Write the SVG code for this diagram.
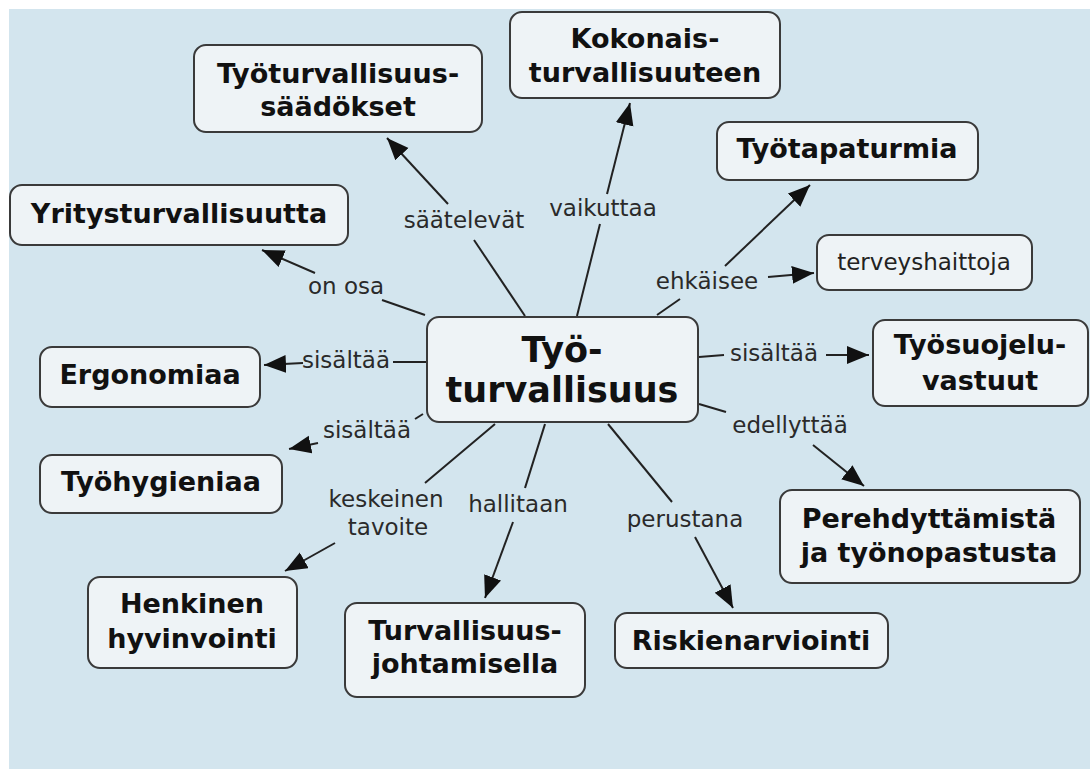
<svg xmlns="http://www.w3.org/2000/svg" width="1090" height="769" viewBox="0 0 1090 769">
<style>
.node rect{fill:#eef3f6;stroke:#3a3a3a;stroke-width:2}
.node text{font-family:"DejaVu Sans",Verdana,sans-serif;font-weight:bold;font-size:27px;fill:#111;text-anchor:middle}
.node text.reg{font-weight:normal;font-size:23px;fill:#222}
.node text.big{font-size:35px}
.conn line{stroke:#222;stroke-width:2}
.conn line.arr{marker-end:url(#ah)}
.lbl{font-family:"DejaVu Sans",Verdana,sans-serif;font-size:23px;fill:#2a2a2a;text-anchor:middle}
</style>
<defs>
<marker id="ah" markerUnits="userSpaceOnUse" markerWidth="24" markerHeight="20" refX="22" refY="9" orient="auto">
<path d="M0,0 L22,9 L0,18 z" fill="#111"/>
</marker>
</defs>
<rect x="0" y="0" width="1090" height="769" fill="#ffffff"/>
<rect x="9" y="9" width="1081" height="760" fill="#d3e5ee"/>

<g class="conn" id="connectors">
<line x1="525" y1="316" x2="474" y2="240"/>
<line class="arr" x1="448" y1="204" x2="387" y2="138"/>
<line x1="577" y1="316" x2="600" y2="224"/>
<line class="arr" x1="607" y1="194" x2="630" y2="103"/>
<line x1="657" y1="315" x2="680" y2="299"/>
<line class="arr" x1="725" y1="266" x2="810" y2="185"/>
<line class="arr" x1="768" y1="277" x2="814" y2="273"/>
<line x1="425" y1="315" x2="382" y2="300"/>
<line class="arr" x1="315" y1="273" x2="262" y2="250"/>
<line x1="427" y1="362" x2="393" y2="362"/>
<line class="arr" x1="303" y1="363" x2="264" y2="365"/>
<line x1="423" y1="414" x2="415" y2="419"/>
<line class="arr" x1="318" y1="443" x2="289" y2="449"/>
<line x1="495" y1="424" x2="425" y2="483"/>
<line class="arr" x1="335" y1="543" x2="285" y2="571"/>
<line x1="545" y1="424" x2="525" y2="488"/>
<line class="arr" x1="513" y1="522" x2="485" y2="598"/>
<line x1="608" y1="424" x2="672" y2="502"/>
<line class="arr" x1="695" y1="537" x2="733" y2="608"/>
<line x1="699" y1="357" x2="724" y2="355"/>
<line class="arr" x1="826" y1="355" x2="869" y2="355"/>
<line x1="699" y1="404" x2="726" y2="412"/>
<line class="arr" x1="813" y1="445" x2="864" y2="486"/>
</g>

<g id="labels">
<text class="lbl" x="464" y="228">säätelevät</text>
<text class="lbl" x="603" y="216">vaikuttaa</text>
<text class="lbl" x="707" y="289">ehkäisee</text>
<text class="lbl" x="346" y="294">on osa</text>
<text class="lbl" x="346" y="368">sisältää</text>
<text class="lbl" x="367" y="438">sisältää</text>
<text class="lbl" x="386" y="507">keskeinen</text>
<text class="lbl" x="388" y="535">tavoite</text>
<text class="lbl" x="518" y="512">hallitaan</text>
<text class="lbl" x="685" y="527">perustana</text>
<text class="lbl" x="774" y="361">sisältää</text>
<text class="lbl" x="790" y="433">edellyttää</text>
</g>

<g class="node" id="n_saadokset">
<rect x="194" y="45" width="288" height="87" rx="12"/>
<text x="338" y="83">Työturvallisuus-</text>
<text x="338" y="116">säädökset</text>
</g>
<g class="node" id="n_kokonais">
<rect x="510" y="12" width="270" height="86" rx="12"/>
<text x="645" y="48">Kokonais-</text>
<text x="645" y="82">turvallisuuteen</text>
</g>
<g class="node" id="n_tyotapaturmia">
<rect x="717" y="122" width="261" height="58" rx="12"/>
<text x="847" y="158">Työtapaturmia</text>
</g>
<g class="node" id="n_yritys">
<rect x="10" y="185" width="338" height="60" rx="12"/>
<text x="179" y="223">Yritysturvallisuutta</text>
</g>
<g class="node" id="n_terveys">
<rect x="817" y="235" width="215" height="55" rx="12"/>
<text class="reg" x="924" y="270">terveyshaittoja</text>
</g>
<g class="node" id="n_center">
<rect x="427" y="317" width="271" height="105" rx="12"/>
<text class="big" x="562" y="362">Työ-</text>
<text class="big" x="562" y="402">turvallisuus</text>
</g>
<g class="node" id="n_ergonomiaa">
<rect x="40" y="347" width="220" height="60" rx="12"/>
<text x="150" y="384">Ergonomiaa</text>
</g>
<g class="node" id="n_tyosuojelu">
<rect x="873" y="320" width="215" height="86" rx="12"/>
<text x="980" y="354">Työsuojelu-</text>
<text x="980" y="390">vastuut</text>
</g>
<g class="node" id="n_tyohygieniaa">
<rect x="40" y="455" width="242" height="58" rx="12"/>
<text x="161" y="491">Työhygieniaa</text>
</g>
<g class="node" id="n_perehd">
<rect x="780" y="490" width="300" height="93" rx="12"/>
<text x="929" y="528">Perehdyttämistä</text>
<text x="929" y="562">ja työnopastusta</text>
</g>
<g class="node" id="n_henkinen">
<rect x="88" y="577" width="209" height="91" rx="12"/>
<text x="192" y="613">Henkinen</text>
<text x="192" y="648">hyvinvointi</text>
</g>
<g class="node" id="n_turvjoht">
<rect x="345" y="603" width="240" height="94" rx="12"/>
<text x="465" y="640">Turvallisuus-</text>
<text x="465" y="673">johtamisella</text>
</g>
<g class="node" id="n_riski">
<rect x="615" y="613" width="273" height="55" rx="12"/>
<text x="751" y="650">Riskienarviointi</text>
</g>
</svg>
